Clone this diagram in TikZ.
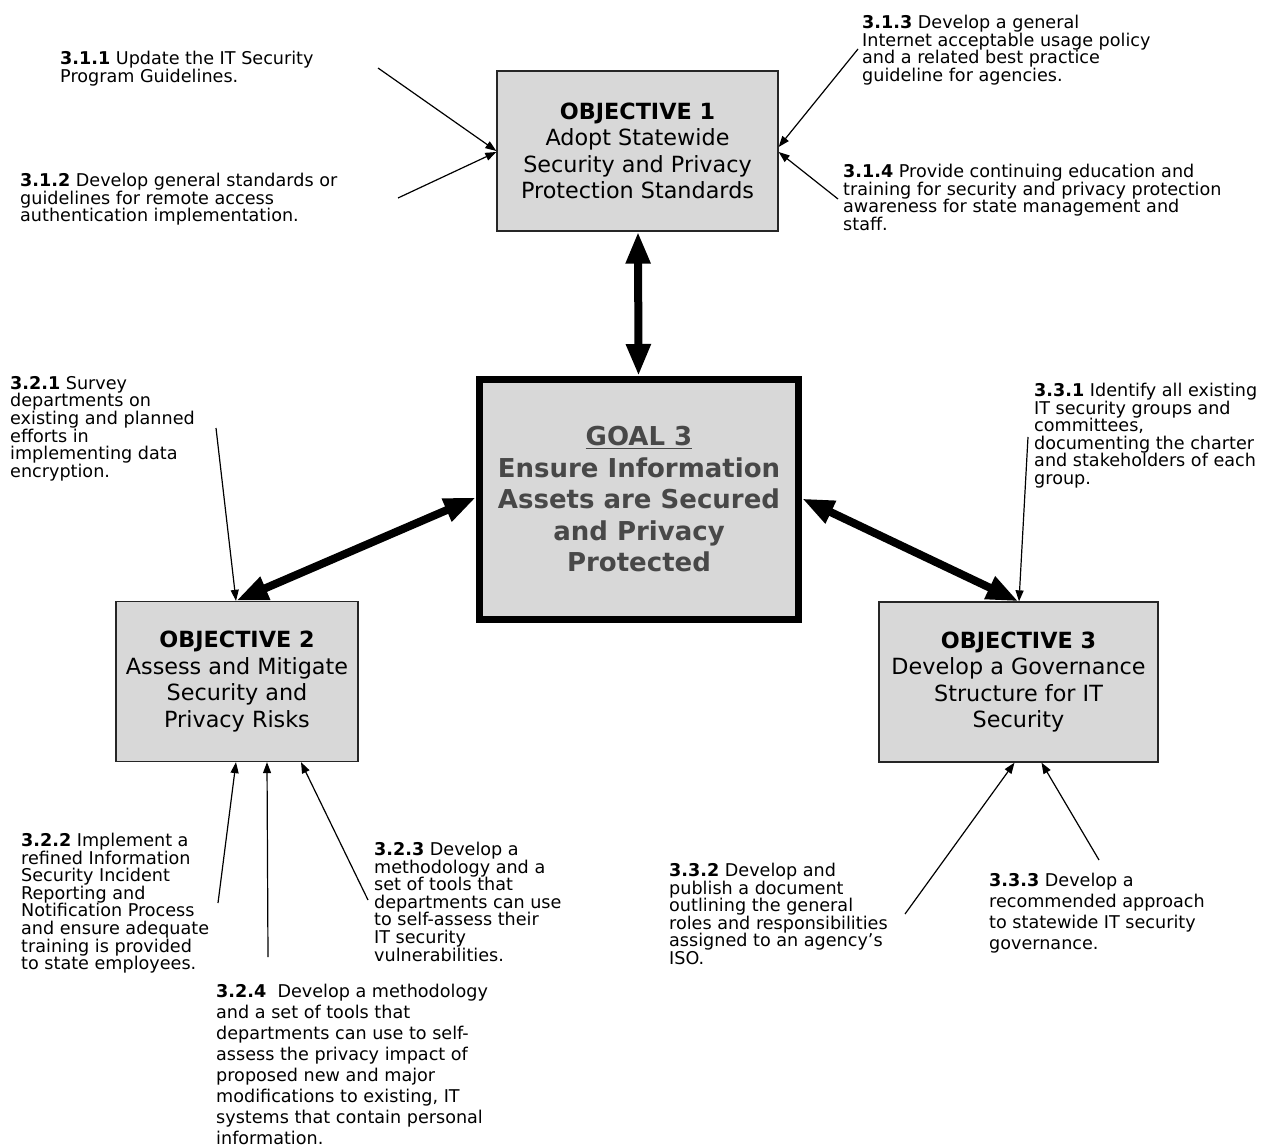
\documentclass[tikz,border=0pt]{standalone}
\usepackage{fontspec}
\setmainfont{DejaVu Sans}
\usetikzlibrary{arrows.meta}
\definecolor{boxfill}{RGB}{216,216,216}
\definecolor{goaltext}{RGB}{72,72,72}
\newcommand\thickul[1]{\setbox0\hbox{#1}\rlap{\rule[-3.5pt]{\wd0}{1.8pt}}\box0}
\begin{document}
\begin{tikzpicture}[x=1pt,y=-1pt,
  objbox/.style={draw=black!85, line width=1.3pt, fill=boxfill, minimum height=160pt,
    inner sep=0pt, align=center, font=\fontsize{22.3}{26.5}\selectfont},
  goalbox/.style={draw=black, line width=7pt, fill=boxfill, minimum width=319pt,
    minimum height=240pt, inner sep=0pt, align=center, text=goaltext,
    font=\fontsize{26}{31.5}\selectfont\bfseries},
  note/.style={anchor=north west, inner sep=0pt, align=left,
    font=\fontsize{17.6}{17.6}\selectfont},
  noteloose/.style={note, font=\fontsize{17.6}{21}\selectfont},
  thinarrow/.style={-{Triangle[length=11pt,width=8pt]}, line width=1.2pt},
  thickarrow/.style={{Triangle[length=32pt,width=23pt]}-{Triangle[length=32pt,width=23pt]}, line width=8pt}
]
\useasboundingbox (0,0) rectangle (1264,1147);
\fill[white] (0,0) rectangle (1264,1147);

% boxes
\node[objbox, minimum width=281pt] (obj1) at (637.5,151)
  {\textbf{OBJECTIVE 1}\\Adopt Statewide\\Security and Privacy\\Protection Standards};
\node[goalbox] (goal) at (639,499.5)
  {\thickul{GOAL 3}\\Ensure Information\\Assets are Secured\\and Privacy\\Protected};
\node[objbox, minimum width=242pt] (obj2) at (237,681.5)
  {\textbf{OBJECTIVE 2}\\Assess and Mitigate\\Security and\\Privacy Risks};
\node[objbox, minimum width=279pt] (obj3) at (1018.5,682)
  {\textbf{OBJECTIVE 3}\\Develop a Governance\\Structure for IT\\Security};

% notes
\node[note] (n311) at (60,51) {\textbf{3.1.1} Update the IT Security\\Program Guidelines.};
\node[note] (n312) at (20,173) {\textbf{3.1.2} Develop general standards or\\guidelines for remote access\\authentication implementation.};
\node[note] (n313) at (862,15) {\textbf{3.1.3} Develop a general\\Internet acceptable usage policy\\and a related best practice\\guideline for agencies.};
\node[note] (n314) at (843,164) {\textbf{3.1.4} Provide continuing education and\\training for security and privacy protection\\awareness for state management and\\staff.};
\node[note] (n321) at (10,376) {\textbf{3.2.1} Survey\\departments on\\existing and planned\\efforts in\\implementing data\\encryption.};
\node[note] (n322) at (21,833) {\textbf{3.2.2} Implement a\\refined Information\\Security Incident\\Reporting and\\Notification Process\\and ensure adequate\\training is provided\\to state employees.};
\node[note] (n323) at (374,842) {\textbf{3.2.3} Develop a\\methodology and a\\set of tools that\\departments can use\\to self-assess their\\IT security\\vulnerabilities.};
\node[noteloose] (n324) at (216,984) {\textbf{3.2.4}\ \ Develop a methodology\\and a set of tools that\\departments can use to self-\\assess the privacy impact of\\proposed new and major\\modifications to existing, IT\\systems that contain personal\\information.};
\node[note] (n331) at (1034,383) {\textbf{3.3.1} Identify all existing\\IT security groups and\\committees,\\documenting the charter\\and stakeholders of each\\group.};
\node[note] (n332) at (669,863) {\textbf{3.3.2} Develop and\\publish a document\\outlining the general\\roles and responsibilities\\assigned to an agency’s\\ISO.};
\node[noteloose] (n333) at (989,873) {\textbf{3.3.3} Develop a\\recommended approach\\to statewide IT security\\governance.};

% free ends of thin connectors
\coordinate (s311) at (378,68);
\coordinate (s312) at (398,198);
\coordinate (s313) at (858,49);
\coordinate (s314) at (838,199);
\coordinate (s321) at (216,428);
\coordinate (s322) at (218,903);
\coordinate (s323) at (368,900);
\coordinate (s324) at (268,957);
\coordinate (s331) at (1028,437);
\coordinate (s332) at (905,914);
\coordinate (s333) at (1099,860);

% thin connectors
\draw[thinarrow] (s311) -- (obj1.west);
\draw[thinarrow] (s312) -- ([yshift=-1pt]obj1.west);
\draw[thinarrow] (s313) -- ([yshift=4pt]obj1.east);
\draw[thinarrow] (s314) -- ([yshift=-1pt]obj1.east);
\draw[thinarrow] (s321) -- ([xshift=-1pt]obj2.north);
\draw[thinarrow] (s322) -- ([xshift=-1pt]obj2.south);
\draw[thinarrow] (s324) -- ([xshift=30pt]obj2.south);
\draw[thinarrow] (s323) -- ([xshift=64pt]obj2.south);
\draw[thinarrow] (s331) -- ([xshift=0.5pt]obj3.north);
\draw[thinarrow] (s332) -- ([xshift=-4pt]obj3.south);
\draw[thinarrow] (s333) -- ([xshift=23pt]obj3.south);

% thick connectors
\draw[thickarrow] ([xshift=0.5pt]obj1.south) -- ([xshift=-0.5pt]goal.north);
\draw[thickarrow] ([yshift=2pt]goal.west) -- ([xshift=-1pt]obj2.north);
\draw[thickarrow] ([yshift=1pt]goal.east) -- ([xshift=0pt]obj3.north);
\end{tikzpicture}
\end{document}
